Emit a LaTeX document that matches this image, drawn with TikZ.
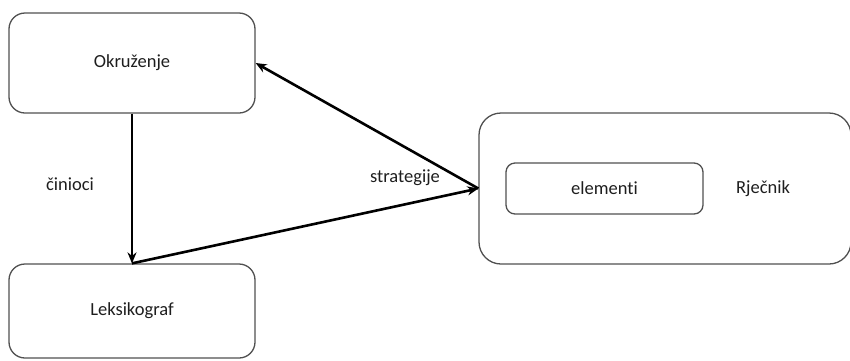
\documentclass[tikz,border=0pt]{standalone}
\usepackage{fontspec}
\setmainfont{Carlito}[RawFeature=-liga]
\usetikzlibrary{arrows.meta}
\definecolor{boxgray}{RGB}{80,80,80}
\definecolor{txt}{RGB}{30,30,30}
\tikzset{
  box/.style={draw=boxgray, line width=1.3pt, rounded corners=16pt, inner sep=0pt, text=txt, font=\fontsize{18.5}{22}\selectfont},
  lbl/.style={inner sep=0pt, text=txt, font=\fontsize{18.5}{22}\selectfont},
  arr/.style={draw=black, line width=2.6pt, -{Stealth[length=11pt,width=9pt]}}
}
\begin{document}
\begin{tikzpicture}[x=1pt,y=-1pt]
\useasboundingbox (0,0) rectangle (850,360);
\node[box, minimum width=246pt, minimum height=100pt] (okr) at (132,63) {Okruženje};
\node[box, minimum width=246pt, minimum height=94pt] (lek) at (132,311) {Leksikograf};
\node[box, rounded corners=22pt, minimum width=372pt, minimum height=151pt] (rje) at (665,188.5) {};
\node[box, rounded corners=9pt, minimum width=197pt, minimum height=51pt] (ele) at (604.5,188.5) {elementi};
\node[lbl] (rjet) at (763,189) {Rječnik};
\node[lbl] (cin) at (70,184) {činioci};
\node[lbl] (str) at (405,178) {strategije};
\draw[arr] (okr.south) -- (lek.north);
\draw[arr] (lek.north) -- (rje.west);
\draw[arr] (rje.west) -- (okr.east);
\end{tikzpicture}
\end{document}
